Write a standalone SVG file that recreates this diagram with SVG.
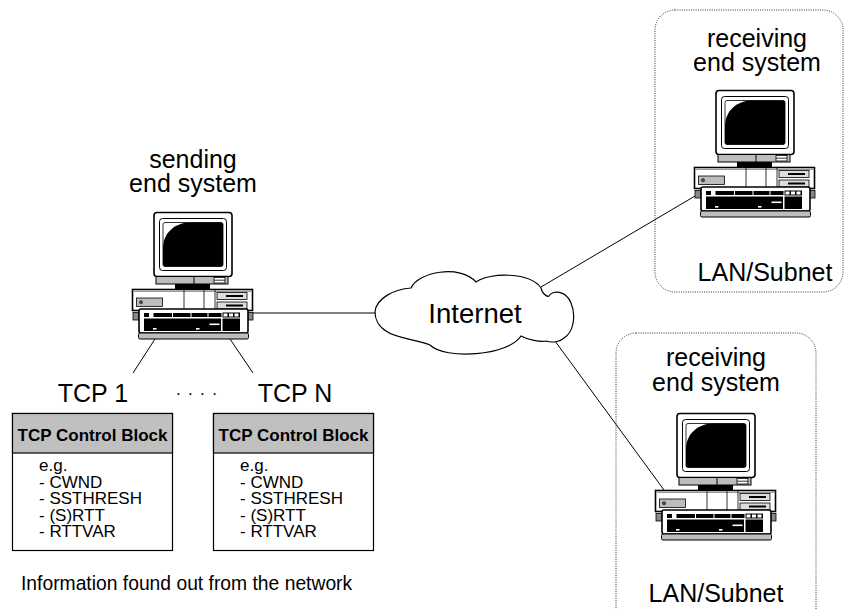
<svg xmlns="http://www.w3.org/2000/svg" xmlns:xlink="http://www.w3.org/1999/xlink" width="846" height="609" viewBox="0 0 846 609">
<style>
  .lbl { font-family: "Liberation Sans", Arial, sans-serif; font-size: 25px; fill: #000; text-anchor: middle; }
  .hdr { font-family: "Liberation Sans", Arial, sans-serif; font-size: 17px; font-weight: bold; fill: #000; text-anchor: middle; }
  .body { font-family: "Liberation Sans", Arial, sans-serif; font-size: 17px; fill: #000; }
  .small { font-family: "Liberation Sans", Arial, sans-serif; font-size: 19.3px; fill: #000; }
  .lan { fill: none; stroke: #333; stroke-width: 1; stroke-dasharray: 1 1.3; }
  .conn { stroke: #000; stroke-width: 1; fill: none; }
  .blk { fill: #fff; stroke: #000; stroke-width: 1.2; }
  .band { fill: #c0c0c0; stroke: #000; stroke-width: 1.2; }
</style>
<defs>
  <g id="pc">
    <!-- monitor -->
    <rect x="154" y="212.5" width="78" height="64" rx="3" fill="#fff" stroke="#000" stroke-width="1.6"/>
    <rect x="159.5" y="218.5" width="67" height="52" rx="3" fill="#fff" stroke="#000" stroke-width="1"/>
    <rect x="163" y="222.5" width="60" height="44" rx="2" fill="#fff" stroke="#000" stroke-width="0.8"/>
    <path d="M163,248 C163,233 175,222.5 190,222.5 L221,222.5 Q223,222.5 223,224.5 L223,264.5 Q223,266.5 221,266.5 L165,266.5 Q163,266.5 163,264.5 Z" fill="#000"/>
    <rect x="156" y="276.5" width="72" height="7.5" fill="#bdbdbd" stroke="#000" stroke-width="1"/>
    <line x1="194" y1="276.5" x2="194" y2="284" stroke="#000" stroke-width="1"/>
    <rect x="214" y="277.5" width="11" height="5.5" fill="#fff" stroke="#000" stroke-width="0.8"/>
    <line x1="214" y1="280.2" x2="225" y2="280.2" stroke="#000" stroke-width="0.8"/>
    <rect x="175" y="284" width="35" height="5.5" fill="#000"/>
    <!-- system unit -->
    <rect x="132.5" y="289.5" width="120" height="21" fill="#fff" stroke="#000" stroke-width="1.6"/>
    <line x1="134" y1="291.5" x2="251" y2="291.5" stroke="#999" stroke-width="1"/>
    <rect x="136.5" y="298" width="26" height="8.5" fill="#bdbdbd" stroke="#000" stroke-width="0.8"/>
    <circle cx="141" cy="302.2" r="1.6" fill="#555" stroke="#000" stroke-width="0.5"/>
    <line x1="184" y1="290" x2="184" y2="310" stroke="#000" stroke-width="0.8"/>
    <line x1="204" y1="290" x2="204" y2="310" stroke="#000" stroke-width="0.8"/>
    <line x1="215" y1="290" x2="215" y2="310" stroke="#000" stroke-width="0.8"/>
    <rect x="217" y="292.5" width="30" height="7" fill="#ddd" stroke="#000" stroke-width="0.8"/>
    <rect x="226" y="295" width="17" height="2" fill="#000"/>
    <rect x="217" y="302" width="30" height="7" fill="#ddd" stroke="#000" stroke-width="0.8"/>
    <rect x="226" y="304.5" width="17" height="2" fill="#000"/>
    <!-- keyboard -->
    <rect x="133" y="312.5" width="6" height="7.5" fill="#888" stroke="#000" stroke-width="0.8"/>
    <rect x="247.5" y="312.5" width="5.5" height="7.5" fill="#888" stroke="#000" stroke-width="0.8"/>
    <rect x="139" y="309" width="109" height="24" rx="2" fill="#fff" stroke="#000" stroke-width="1.6"/>
    <rect x="144" y="313" width="5" height="4" fill="#000"/>
    <rect x="153.5" y="313" width="68" height="4" fill="#000"/>
    <line x1="172.5" y1="313" x2="172.5" y2="317" stroke="#fff" stroke-width="1"/>
    <line x1="191" y1="313" x2="191" y2="317" stroke="#fff" stroke-width="1"/>
    <line x1="208" y1="313" x2="208" y2="317" stroke="#fff" stroke-width="1"/>
    <rect x="222.5" y="312.5" width="17.5" height="5" fill="#000"/>
    <rect x="223.5" y="313.5" width="4" height="3" fill="#fff"/>
    <rect x="229" y="313.5" width="4" height="3" fill="#fff"/>
    <rect x="234.5" y="313.5" width="4" height="3" fill="#fff"/>
    <rect x="144" y="318.5" width="77" height="12.5" fill="#000"/>
    <rect x="153" y="328" width="3.5" height="1.6" fill="#fff"/>
    <rect x="196" y="328" width="3.5" height="1.6" fill="#fff"/>
    <rect x="209.5" y="323.5" width="10" height="1.6" fill="#fff"/>
    <rect x="222.5" y="318.5" width="17.5" height="12.5" fill="#000"/>
    <rect x="138.5" y="333" width="110" height="6" rx="1.5" fill="#bdbdbd" stroke="#000" stroke-width="1"/>
  </g>
</defs>

<rect width="846" height="609" fill="#fff"/>

<g id="lan1">
  <rect class="lan" x="655" y="10" width="188" height="282" rx="20"/>
  <text class="lbl" x="765" y="281">LAN/Subnet</text>
</g>
<g id="lan2">
  <rect class="lan" x="616" y="333" width="200" height="300" rx="20"/>
  <text class="lbl" x="716" y="602">LAN/Subnet</text>
</g>

<g id="connectors">
  <line class="conn" x1="253" y1="313" x2="376" y2="313"/>
  <line class="conn" x1="541" y1="287" x2="695" y2="196"/>
  <line class="conn" x1="555" y1="341" x2="664" y2="490"/>
  <line class="conn" x1="155" y1="339" x2="133" y2="373"/>
  <line class="conn" x1="230" y1="339" x2="253" y2="373"/>
</g>

<g id="internet">
  <path d="M375,312 C376,298 395,289 411,288 C418,272 460,264 476,282 C490,272 530,272 541,288 C543,296 549,297 549,296 C552,290 566,290 571,303 C576,315 574,332 564,338 C560,342 552,343 546,341 C540,342 528,340 521,336 C508,356 445,360 430,345 C418,340 395,338 386,331 C378,326 375,318 375,312 Z" fill="#fff" stroke="#000" stroke-width="1.2"/>
  <text class="lbl" x="475" y="323" style="font-size:27.5px">Internet</text>
</g>

<g id="sender">
  <use xlink:href="#pc" href="#pc"/>
  <text class="lbl" x="193" y="168">sending</text>
  <text class="lbl" x="193" y="192">end system</text>
</g>

<g id="receiver1">
  <use xlink:href="#pc" href="#pc" transform="translate(562,-122)"/>
  <text class="lbl" x="757" y="47">receiving</text>
  <text class="lbl" x="757" y="71">end system</text>
</g>

<g id="receiver2">
  <use xlink:href="#pc" href="#pc" transform="translate(523,201)"/>
  <text class="lbl" x="716" y="366">receiving</text>
  <text class="lbl" x="716" y="391">end system</text>
</g>

<g id="tcp1">
  <text class="lbl" x="93" y="402">TCP 1</text>
  <rect class="blk" x="12.5" y="413.5" width="160" height="137"/>
  <rect class="band" x="12.5" y="413.5" width="160" height="39.5"/>
  <text class="hdr" x="92.5" y="441">TCP Control Block</text>
  <text class="body" x="39" y="471">e.g.</text>
  <text class="body" x="39" y="487.5">- CWND</text>
  <text class="body" x="39" y="504">- SSTHRESH</text>
  <text class="body" x="39" y="520.5">- (S)RTT</text>
  <text class="body" x="39" y="537">- RTTVAR</text>
</g>

<g id="dots">
  <text class="body" x="176" y="395" style="letter-spacing:1.3px">. . . .</text>
</g>

<g id="tcpN">
  <text class="lbl" x="295" y="402">TCP N</text>
  <rect class="blk" x="213.5" y="413.5" width="160" height="137"/>
  <rect class="band" x="213.5" y="413.5" width="160" height="39.5"/>
  <text class="hdr" x="293.5" y="441">TCP Control Block</text>
  <text class="body" x="240" y="471">e.g.</text>
  <text class="body" x="240" y="487.5">- CWND</text>
  <text class="body" x="240" y="504">- SSTHRESH</text>
  <text class="body" x="240" y="520.5">- (S)RTT</text>
  <text class="body" x="240" y="537">- RTTVAR</text>
</g>

<g id="note">
  <text class="small" x="21" y="590">Information found out from the network</text>
</g>
</svg>
